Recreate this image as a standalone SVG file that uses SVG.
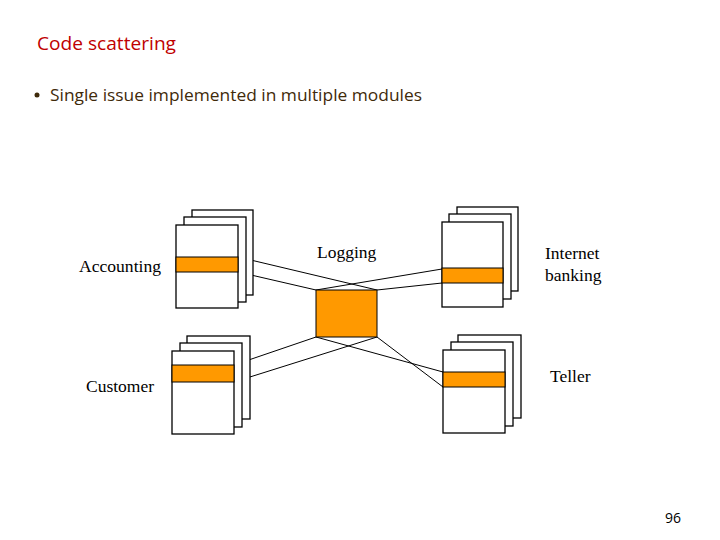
<svg xmlns="http://www.w3.org/2000/svg" width="720" height="540" viewBox="0 0 720 540">
<style>
.pg{fill:#fff;stroke:#000;stroke-width:1.3}
.band{fill:#FF9900;stroke:#000;stroke-width:1}
.lbl{font-family:"Liberation Serif",serif;font-size:17.5px;fill:#000}
.cn{stroke:#000;stroke-width:1;fill:none}
</style>
<rect width="720" height="540" fill="#fff"/>
<text x="37" y="50" font-family="Open Sans, Liberation Sans, sans-serif" font-size="18" fill="#C00000" textLength="139" lengthAdjust="spacingAndGlyphs">Code scattering</text>
<circle cx="37" cy="95" r="2.5" fill="#3F2A0A"/>
<text x="50" y="101" font-family="Open Sans, Liberation Sans, sans-serif" font-size="17" fill="#3F2A0A" textLength="372" lengthAdjust="spacingAndGlyphs">Single issue implemented in multiple modules</text>

<g id="connectors">
<line class="cn" x1="238" y1="257" x2="377" y2="290"/>
<line class="cn" x1="238" y1="272" x2="316" y2="290"/>
<line class="cn" x1="442" y1="269" x2="316" y2="290"/>
<line class="cn" x1="442" y1="283" x2="377" y2="290"/>
<line class="cn" x1="316" y1="337" x2="234" y2="365"/>
<line class="cn" x1="377" y1="337" x2="234" y2="382"/>
<line class="cn" x1="316" y1="337" x2="443" y2="372"/>
<line class="cn" x1="377" y1="337" x2="443" y2="387"/>
</g>

<g id="accounting">
<rect class="pg" x="192" y="210" width="61" height="85"/>
<rect class="pg" x="184" y="217" width="62" height="85"/>
<rect class="pg" x="176" y="225" width="62" height="83"/>
<rect class="band" x="176" y="257" width="62" height="15"/>
<text class="lbl" x="79" y="272" textLength="82" lengthAdjust="spacingAndGlyphs">Accounting</text>
</g>

<g id="internet-banking">
<rect class="pg" x="457" y="207" width="61" height="84"/>
<rect class="pg" x="449" y="214" width="62" height="85"/>
<rect class="pg" x="442" y="222" width="61" height="85"/>
<rect class="band" x="442" y="268" width="61" height="15"/>
<text class="lbl" x="545" y="259">Internet</text>
<text class="lbl" x="545" y="281">banking</text>
</g>

<g id="customer">
<rect class="pg" x="187" y="336" width="63" height="83"/>
<rect class="pg" x="180" y="343" width="62" height="84"/>
<rect class="pg" x="172" y="351" width="62" height="83"/>
<rect class="band" x="172" y="365" width="62" height="17"/>
<text class="lbl" x="86" y="392">Customer</text>
</g>

<g id="teller">
<rect class="pg" x="458" y="335" width="63" height="83"/>
<rect class="pg" x="451" y="342" width="62" height="84"/>
<rect class="pg" x="443" y="350" width="62" height="83"/>
<rect class="band" x="443" y="372" width="62" height="15"/>
<text class="lbl" x="550" y="382">Teller</text>
</g>

<g id="logging">
<rect class="band" x="316" y="290" width="61" height="47" stroke-width="1.3"/>
<text class="lbl" x="317" y="258">Logging</text>
</g>

<text x="665" y="523" font-family="Open Sans, Liberation Sans, sans-serif" font-size="14" fill="#000">96</text>
</svg>
